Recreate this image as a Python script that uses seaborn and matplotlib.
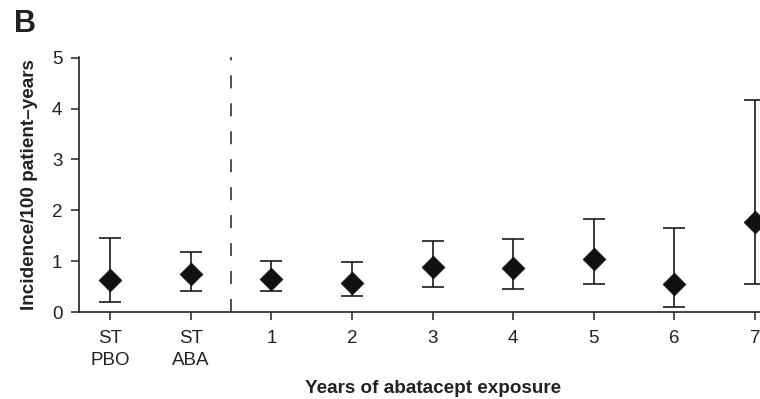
import numpy as np
import pandas as pd
import matplotlib
matplotlib.use('Agg')
import matplotlib.pyplot as plt
import seaborn as sns

groups = ['ST\nPBO', 'ST\nABA', '1', '2', '3', '4', '5', '6', '7']
incidence = [0.63, 0.75, 0.64, 0.58, 0.88, 0.86, 1.05, 0.56, 1.77]
ci_low = [0.20, 0.42, 0.42, 0.31, 0.50, 0.46, 0.55, 0.10, 0.56]
ci_high = [1.46, 1.18, 1.01, 0.99, 1.39, 1.43, 1.82, 1.65, 4.16]

sns.set_style('ticks')
plt.rcParams['font.family'] = ['Liberation Sans', 'DejaVu Sans']

df = pd.DataFrame({'group': groups, 'incidence': incidence,
                   'low': ci_low, 'high': ci_high})
df['pos'] = np.arange(len(df))

fig = plt.figure(figsize=(7.6, 3.99), dpi=100)
ax = fig.add_axes([0.104, 0.218, 0.932, 0.640])

ax.errorbar(df['pos'], df['incidence'],
            yerr=[df['incidence'] - df['low'], df['high'] - df['incidence']],
            fmt='none', ecolor='#1a1a1a', elinewidth=1.2, capsize=8,
            capthick=1.2, zorder=2)
sns.scatterplot(data=df, x='pos', y='incidence', marker='D', s=135,
                color='#111111', edgecolor='#111111', linewidth=0.5,
                zorder=3, ax=ax, legend=False)

# split between short-term and long-term periods
ax.axvline(1.5, color='#222222', linewidth=1.1, dashes=(8.5, 9.8), zorder=1)

ax.set_xlim(-0.385, 8.4)
ax.set_ylim(0, 5.02)
ax.set_yticks(range(0, 6))
ax.set_xticks(df['pos'])
ax.set_xticklabels(df['group'], linespacing=1.35)
ax.tick_params(axis='both', labelsize=13.5, colors='#222222',
               length=6, width=1.1)
ax.tick_params(axis='x', pad=7)
ax.tick_params(axis='y', pad=6)
for side in ['top', 'right']:
    ax.spines[side].set_visible(False)
for side in ['left', 'bottom']:
    ax.spines[side].set_linewidth(1.2)
    ax.spines[side].set_color('#222222')

ax.set_xlabel('Years of abatacept exposure', fontsize=13.6,
              fontweight='bold', color='#222222', labelpad=8)
ax.set_ylabel('Incidence/100 patient\u2013years', fontsize=13.6,
              fontweight='bold', color='#222222', labelpad=10)

fig.text(0.019, 0.92, 'B', fontsize=22, fontweight='bold', color='#222222')

fig.savefig('out.png', dpi=100)
plt.close(fig)
